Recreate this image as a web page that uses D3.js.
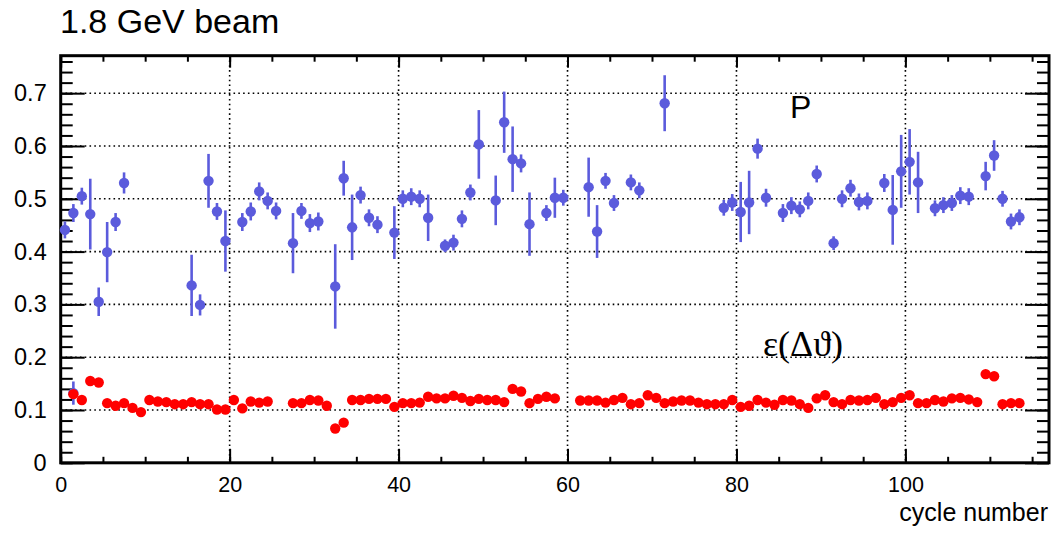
<!DOCTYPE html>
<html>
<head>
<meta charset="utf-8">
<script src="https://cdn.jsdelivr.net/npm/d3@7"></script>
<style>
html,body{margin:0;padding:0;background:#fff;}
svg{display:block;}
</style>
</head>
<body>
<svg id="chart" width="1056" height="533" font-family="Liberation Sans, Arial, Helvetica, sans-serif"></svg>
<script>
// ---- data ----
const pCycles = [0,1,2,3,4,5,6,7,15,16,17,18,19,21,22,23,24,25,27,28,29,30,32,33,34,35,36,37,39,40,41,42,43,45,46,47,48,49,51,52,53,54,55,57,58,59,62,63,64,65,67,68,71,78,79,80,81,82,83,85,86,87,88,89,91,92,93,94,95,97,98,99,100,101,103,104,105,106,107,109,110,111,112,113];
const pValues = [0.441,0.473,0.505,0.471,0.305,0.399,0.456,0.530,0.336,0.299,0.534,0.476,0.420,0.456,0.476,0.514,0.496,0.477,0.416,0.477,0.454,0.457,0.334,0.539,0.446,0.507,0.464,0.451,0.436,0.500,0.504,0.500,0.464,0.411,0.417,0.462,0.512,0.603,0.497,0.645,0.575,0.567,0.452,0.473,0.502,0.502,0.522,0.438,0.534,0.492,0.531,0.516,0.681,0.483,0.493,0.475,0.493,0.595,0.502,0.473,0.487,0.480,0.496,0.547,0.416,0.500,0.520,0.494,0.496,0.530,0.479,0.552,0.570,0.531,0.482,0.488,0.492,0.506,0.504,0.543,0.582,0.500,0.457,0.465];
const pErrors = [0.016,0.017,0.016,0.067,0.027,0.057,0.017,0.020,0.058,0.020,0.051,0.016,0.058,0.017,0.017,0.017,0.016,0.016,0.057,0.015,0.017,0.017,0.080,0.033,0.062,0.016,0.016,0.016,0.050,0.016,0.016,0.016,0.044,0.012,0.015,0.016,0.015,0.065,0.047,0.058,0.062,0.017,0.060,0.015,0.038,0.015,0.056,0.050,0.015,0.015,0.015,0.015,0.053,0.015,0.016,0.057,0.060,0.019,0.017,0.017,0.016,0.015,0.016,0.016,0.013,0.016,0.016,0.016,0.016,0.017,0.066,0.069,0.062,0.058,0.015,0.015,0.015,0.016,0.016,0.027,0.029,0.015,0.015,0.015];
// extra low-lying P entry hidden behind the first ε point
const pExtraCycles = [1];
const pExtraValues = [0.132];
const pExtraErrors = [0.022];

const eCycles = [1,2,3,4,5,6,7,8,9,10,11,12,13,14,15,16,17,18,19,20,21,22,23,24,27,28,29,30,31,32,33,34,35,36,37,38,39,40,41,42,43,44,45,46,47,48,49,50,51,52,53,54,55,56,57,58,61,62,63,64,65,66,67,68,69,70,71,72,73,74,75,76,77,78,79,80,81,82,83,84,85,86,87,88,89,90,91,92,93,94,95,96,97,98,99,100,101,102,103,104,105,106,107,108,109,110,111,112,113];
const eValues = [0.130,0.119,0.155,0.152,0.113,0.108,0.113,0.104,0.096,0.119,0.116,0.115,0.111,0.111,0.115,0.111,0.111,0.101,0.101,0.119,0.103,0.116,0.114,0.116,0.113,0.113,0.119,0.118,0.108,0.065,0.076,0.119,0.119,0.121,0.121,0.121,0.106,0.113,0.113,0.114,0.125,0.122,0.122,0.127,0.123,0.117,0.121,0.119,0.119,0.115,0.140,0.135,0.113,0.121,0.125,0.122,0.118,0.118,0.118,0.114,0.119,0.123,0.111,0.113,0.128,0.123,0.113,0.116,0.118,0.118,0.114,0.111,0.111,0.111,0.119,0.106,0.108,0.119,0.114,0.110,0.119,0.118,0.111,0.104,0.122,0.128,0.115,0.111,0.119,0.118,0.119,0.123,0.111,0.115,0.123,0.128,0.113,0.113,0.119,0.116,0.122,0.123,0.120,0.115,0.168,0.164,0.111,0.113,0.113];

const xDomain = [0, 117];
const yDomain = [0, 0.771];
const xMajorTicks = [0,20,40,60,80,100];
const yMajorTicks = [0,0.1,0.2,0.3,0.4,0.5,0.6,0.7];
const titleText = "1.8 GeV beam";
const xTitle = "cycle number";
const labelP = "P";
const labelEps = "ε(Δϑ)";

// ---- layout ----
const L = 60.7, R = 1049, T = 55.7, B = 462.8;
const svg = d3.select("#chart");
const x = d3.scaleLinear().domain(xDomain).range([L, R]);
const y = d3.scaleLinear().domain(yDomain).range([B, T]);

const blue = "#5b5bdc";
const red = "#ff0000";

// grid
const grid = svg.append("g");
grid.selectAll("line.gx").data(xMajorTicks.filter(d => d > 0)).join("line")
  .attr("x1", d => x(d)).attr("x2", d => x(d)).attr("y1", T).attr("y2", B)
  .attr("stroke", "#000").attr("stroke-width", 1.6).attr("stroke-dasharray", "1.6,3.2");
grid.selectAll("line.gy").data(yMajorTicks.filter(d => d > 0)).join("line")
  .attr("y1", d => y(d)).attr("y2", d => y(d)).attr("x1", L).attr("x2", R)
  .attr("stroke", "#000").attr("stroke-width", 1.6).attr("stroke-dasharray", "1.6,3.2");

// axes (ticks inward)
const yMinor = d3.range(0, 0.7701, 0.02).map(v => +v.toFixed(2));
const xMinor = d3.range(0, 117, 5);
function styleAxis(g){ g.select(".domain").remove(); g.selectAll(".tick line").attr("stroke","#000").attr("stroke-width",2); }
function styleLabels(size){
  return g => g.selectAll(".tick text").attr("font-size", size).attr("fill","#000")
    .attr("font-family","Liberation Sans, Arial, sans-serif");
}

svg.append("g").attr("transform", `translate(${L},0)`)
  .call(d3.axisLeft(y).tickValues(yMinor).tickSizeInner(-12).tickSizeOuter(0).tickFormat(""))
  .call(styleAxis);
svg.append("g").attr("transform", `translate(${L},0)`)
  .call(d3.axisLeft(y).tickValues(yMajorTicks).tickSizeInner(-24).tickSizeOuter(0).tickPadding(14)
    .tickFormat(d => d === 0 ? "0" : d3.format(".1f")(d)))
  .call(styleAxis)
  .call(styleLabels(23.5));
svg.append("g").attr("transform", `translate(${R},0)`)
  .call(d3.axisRight(y).tickValues(yMinor).tickSizeInner(-12).tickSizeOuter(0).tickFormat(""))
  .call(styleAxis);
svg.append("g").attr("transform", `translate(${R},0)`)
  .call(d3.axisRight(y).tickValues(yMajorTicks).tickSizeInner(-24).tickSizeOuter(0).tickFormat(""))
  .call(styleAxis);

svg.append("g").attr("transform", `translate(0,${B})`)
  .call(d3.axisBottom(x).tickValues(xMinor).tickSizeInner(-6).tickSizeOuter(0).tickFormat(""))
  .call(styleAxis);
svg.append("g").attr("transform", `translate(0,${B})`)
  .call(d3.axisBottom(x).tickValues(xMajorTicks).tickSizeInner(-14).tickSizeOuter(0).tickPadding(14)
    .tickFormat(d3.format("d")))
  .call(styleAxis)
  .call(styleLabels(21.5));
svg.append("g").attr("transform", `translate(0,${T})`)
  .call(d3.axisTop(x).tickValues(xMinor).tickSizeInner(-6).tickSizeOuter(0).tickFormat(""))
  .call(styleAxis);
svg.append("g").attr("transform", `translate(0,${T})`)
  .call(d3.axisTop(x).tickValues(xMajorTicks).tickSizeInner(-12).tickSizeOuter(0).tickFormat(""))
  .call(styleAxis);

// frame
svg.append("rect").attr("x", L).attr("y", T).attr("width", R - L).attr("height", B - T)
  .attr("fill", "none").attr("stroke", "#000").attr("stroke-width", 3);

// data helpers
const pData = pCycles.map((c, i) => ({c, v: pValues[i], e: pErrors[i]}));
const pExtra = pExtraCycles.map((c, i) => ({c, v: pExtraValues[i], e: pExtraErrors[i]}));
const eData = eCycles.map((c, i) => ({c, v: eValues[i]}));
const cx = d => x(d.c + 0.5);

const pts = svg.append("g");
function drawErr(data){
  pts.append("g").selectAll("line").data(data).join("line")
    .attr("x1", cx).attr("x2", cx)
    .attr("y1", d => y(d.v - d.e)).attr("y2", d => y(d.v + d.e))
    .attr("stroke", blue).attr("stroke-width", 2.6);
  pts.append("g").selectAll("circle").data(data).join("circle")
    .attr("cx", cx).attr("cy", d => y(d.v)).attr("r", 5.2).attr("fill", blue);
}
drawErr(pExtra);
drawErr(pData);
pts.append("g").selectAll("circle").data(eData).join("circle")
  .attr("cx", cx).attr("cy", d => y(d.v)).attr("r", 5.2).attr("fill", red);

// texts
svg.append("text").attr("x", 60).attr("y", 33).attr("font-size", 34).attr("fill", "#000").text(titleText);
svg.append("text").attr("x", R - 1).attr("y", 521).attr("text-anchor", "end").attr("font-size", 25).attr("fill", "#000").text(xTitle);
svg.append("text").attr("x", 790).attr("y", 118).attr("font-size", 32).attr("fill", "#000").text(labelP);
svg.append("text").attr("x", 763).attr("y", 356).attr("font-size", 36).attr("fill", "#000")
  .attr("font-family", "Liberation Serif, Times New Roman, serif").text(labelEps);
</script>
</body>
</html>
